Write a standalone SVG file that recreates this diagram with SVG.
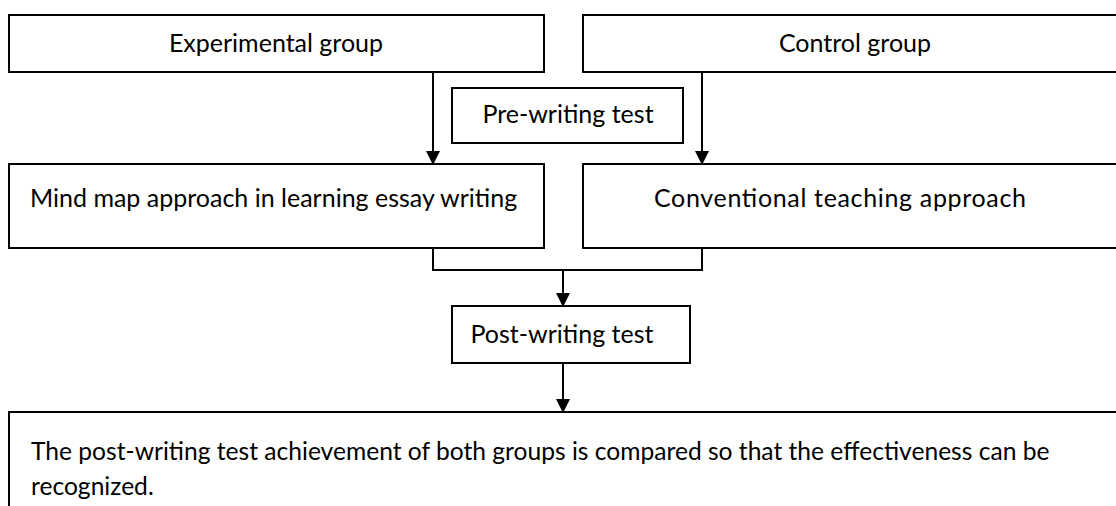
<svg xmlns="http://www.w3.org/2000/svg" width="1116" height="506" viewBox="0 0 1116 506">
<style>
.box{fill:#fff;stroke:#000;stroke-width:2}
.t{font-family:Lato,"Open Sans","Liberation Sans",sans-serif;font-size:25px;fill:#000}
.c{text-anchor:middle}
.ln{fill:none;stroke:#000;stroke-width:2}
</style>
<defs>
<marker id="ah" markerWidth="14" markerHeight="16" refX="13" refY="7" orient="auto" markerUnits="userSpaceOnUse">
<path d="M0,0 L14,7 L0,14 Z" fill="#000"/>
</marker>
</defs>
<rect width="1116" height="506" fill="#fff"/>
<g id="connectors">
<line class="ln" x1="433" y1="72" x2="433" y2="164" marker-end="url(#ah)"/>
<line class="ln" x1="702" y1="72" x2="702" y2="164" marker-end="url(#ah)"/>
<polyline class="ln" points="433,248 433,270 702,270 702,248"/>
<line class="ln" x1="563" y1="270" x2="563" y2="306" marker-end="url(#ah)"/>
<line class="ln" x1="563" y1="363" x2="563" y2="412" marker-end="url(#ah)"/>
</g>
<g id="experimental">
<rect class="box" x="9" y="15" width="535" height="57"/>
<text class="t c" x="276" y="52">Experimental group</text>
</g>
<g id="control">
<rect class="box" x="583" y="15" width="540" height="57"/>
<text class="t c" x="855" y="52">Control group</text>
</g>
<g id="prewriting">
<rect class="box" x="452" y="88" width="231" height="55"/>
<text class="t c" x="568" y="123">Pre-writing test</text>
</g>
<g id="mindmap">
<rect class="box" x="9" y="164" width="535" height="84"/>
<text class="t" x="30" y="207">Mind map approach in learning essay writing</text>
</g>
<g id="conventional">
<rect class="box" x="583" y="164" width="540" height="84"/>
<text class="t c" x="840" y="207" textLength="372" lengthAdjust="spacing">Conventional teaching approach</text>
</g>
<g id="postwriting">
<rect class="box" x="452" y="306" width="238" height="57"/>
<text class="t c" x="562" y="343">Post-writing test</text>
</g>
<g id="result">
<rect class="box" x="9" y="412" width="1120" height="110"/>
<text class="t" x="31" y="460" style="font-size:24.6px">The post-writing test achievement of both groups is compared so that the effectiveness can be</text>
<text class="t" x="31" y="495" style="font-size:24.6px">recognized.</text>
</g>
</svg>
